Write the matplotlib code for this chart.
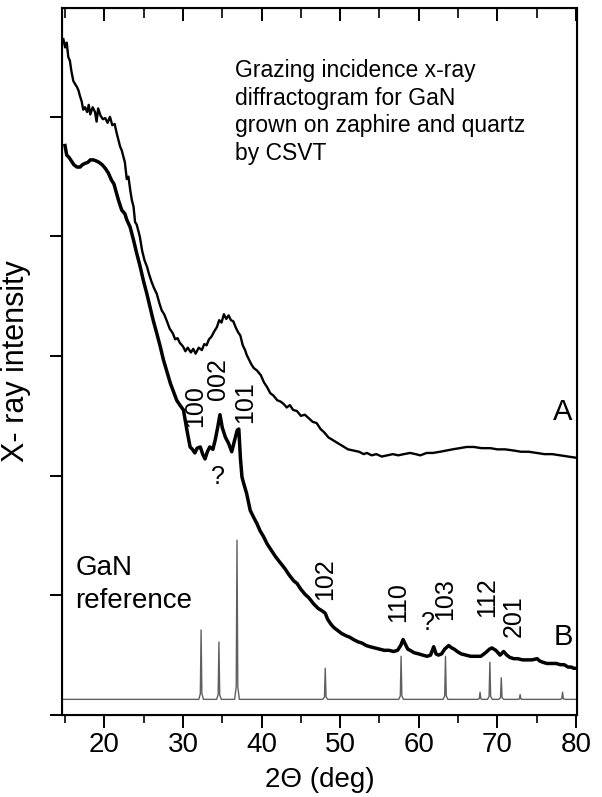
import numpy as np
import matplotlib
matplotlib.use("Agg")
import matplotlib.pyplot as plt
from matplotlib.ticker import MultipleLocator, NullFormatter

plt.rcParams['font.family'] = ['Liberation Sans', 'DejaVu Sans']

# curve A (upper)
a_x = [14.77, 15.0, 15.2, 15.4, 15.6, 15.8, 16.04, 16.3, 16.5, 16.7, 16.9, 17.1, 17.3, 17.53,
       17.8, 18.0, 18.2, 18.5, 18.8, 19.0, 19.2, 19.5, 19.8, 20.1, 20.4, 20.7, 21.0, 21.3,
       21.57, 21.8, 22.0, 22.2, 22.4, 22.6, 22.84, 23.05, 23.3, 23.5, 23.7, 23.9, 24.1, 24.3,
       24.5, 24.8, 25.1, 25.4, 25.7, 26.0, 26.3, 26.66, 27.0, 27.3, 27.6, 27.9, 28.3, 28.7,
       29.0, 29.3, 29.6, 30.0, 30.3, 30.6, 31.0, 31.3, 31.6, 32.0, 32.4, 32.7, 33.0, 33.3,
       33.6, 34.0, 34.3, 34.6, 34.9, 35.2, 35.5, 35.8, 36.1, 36.4, 36.7, 37.0, 37.3, 37.6,
       37.9, 38.1, 38.4, 38.7, 39.0, 39.4, 39.9, 40.3, 40.7, 41.1, 41.5, 42.0, 42.4, 42.8,
       43.2, 43.6, 44.0, 44.5, 45.0, 45.5, 46.0, 46.5, 47.0, 47.5, 48.0, 48.5, 49.0, 49.5,
       50.0, 50.5, 51.0, 51.7, 52.4, 53.0, 53.4, 54.0, 54.6, 55.3, 56.0, 56.7, 57.4, 58.1,
       58.9, 59.6, 60.2, 61.0, 61.8, 62.7, 63.5, 64.3, 65.2, 66.1, 67.0, 68.0, 69.1, 70.0,
       71.0, 72.1, 73.0, 74.0, 75.0, 76.0, 77.0, 78.0, 79.0, 80.0]
a_y = [5.65, 5.58, 5.62, 5.50, 5.47, 5.38, 5.30, 5.27, 5.25, 5.22, 5.17, 5.13, 5.06, 5.08,
       5.04, 5.10, 5.02, 5.08, 5.04, 4.96, 5.07, 5.01, 4.98, 4.99, 4.95, 5.00, 4.93, 4.94,
       4.86, 4.80, 4.75, 4.72, 4.67, 4.62, 4.48, 4.50, 4.38, 4.30, 4.25, 4.12, 4.10, 4.05,
       4.00, 3.88, 3.80, 3.75, 3.68, 3.62, 3.57, 3.52, 3.44, 3.38, 3.35, 3.30, 3.23, 3.19,
       3.14, 3.15, 3.11, 3.08, 3.04, 3.07, 3.03, 3.06, 3.02, 3.07, 3.05, 3.10, 3.09, 3.14,
       3.16, 3.21, 3.24, 3.30, 3.28, 3.35, 3.31, 3.34, 3.30, 3.29, 3.24, 3.20, 3.17, 3.09,
       3.05, 3.01, 2.97, 2.93, 2.90, 2.88, 2.84, 2.78, 2.74, 2.69, 2.67, 2.63, 2.62, 2.60,
       2.57, 2.59, 2.55, 2.54, 2.50, 2.51, 2.48, 2.45, 2.44, 2.39, 2.36, 2.32, 2.30, 2.28,
       2.26, 2.24, 2.22, 2.21, 2.20, 2.18, 2.19, 2.17, 2.18, 2.16, 2.17, 2.18, 2.17, 2.18,
       2.19, 2.18, 2.17, 2.19, 2.19, 2.20, 2.21, 2.22, 2.23, 2.24, 2.24, 2.23, 2.23, 2.22,
       2.22, 2.21, 2.20, 2.20, 2.19, 2.18, 2.18, 2.17, 2.16, 2.15]

# curve B (lower)
b_x = [14.98, 15.2, 15.5, 15.8, 16.1, 16.5, 16.9, 17.2, 17.5, 17.9, 18.2, 18.6, 19.0, 19.3,
       19.7, 20.1, 20.5, 20.9, 21.2, 21.5, 21.8, 22.2, 22.6, 22.84, 23.26, 23.7, 24.1, 24.5,
       24.96, 25.4, 25.8, 26.2, 26.66, 27.1, 27.5, 28.0, 28.4, 28.8, 29.2, 29.6, 30.05, 30.5,
       30.9, 31.2, 31.5, 31.8, 32.2, 32.5, 32.8, 33.1, 33.4, 33.8, 34.1, 34.4, 34.7, 35.0,
       35.4, 35.8, 36.2, 36.5, 36.9, 37.1, 37.3, 37.5, 37.7, 38.1, 38.55, 39.0, 39.4, 39.8,
       40.25, 40.7, 41.2, 41.8, 42.4, 43.0, 43.5, 44.1, 44.5, 45.0, 45.5, 46.0, 46.6, 47.2,
       47.7, 48.1, 48.4, 48.8, 49.2, 49.6, 50.2, 50.8, 51.2, 51.7, 52.3, 52.8, 53.3, 53.8,
       54.4, 55.0, 55.6, 56.2, 56.8, 57.3, 57.7, 58.0, 58.3, 58.6, 58.9, 59.4, 60.0, 60.5,
       61.06, 61.5, 61.9, 62.2, 62.5, 62.9, 63.3, 63.8, 64.2, 64.5, 64.9, 65.4, 66.0, 66.6,
       67.2, 67.9, 68.5, 69.0, 69.3, 69.8, 70.35, 70.8, 71.2, 71.6, 72.1, 72.6, 73.2, 73.8,
       74.4, 75.07, 75.4, 75.8, 76.3, 76.9, 77.5, 78.0, 78.5, 79.0, 79.4, 79.7, 80.0]
b_y = [4.76, 4.68, 4.66, 4.63, 4.60, 4.58, 4.58, 4.60, 4.61, 4.62, 4.64, 4.64, 4.63, 4.62,
       4.60, 4.57, 4.53, 4.47, 4.44, 4.37, 4.30, 4.22, 4.19, 4.14, 4.08, 3.97, 3.86, 3.76,
       3.63, 3.52, 3.41, 3.30, 3.19, 3.08, 2.97, 2.86, 2.77, 2.70, 2.63, 2.59, 2.55, 2.38,
       2.24, 2.22, 2.19, 2.23, 2.24, 2.18, 2.14, 2.20, 2.24, 2.22, 2.30, 2.40, 2.51, 2.40,
       2.32, 2.27, 2.20, 2.28, 2.38, 2.39, 2.15, 1.99, 1.94, 1.85, 1.71, 1.65, 1.60, 1.54,
       1.49, 1.43, 1.38, 1.32, 1.27, 1.22, 1.17, 1.12, 1.10, 1.05, 1.01, 0.98, 0.93, 0.89,
       0.87, 0.85, 0.80, 0.76, 0.73, 0.71, 0.68, 0.66, 0.65, 0.63, 0.61, 0.60, 0.58, 0.57,
       0.56, 0.55, 0.54, 0.54, 0.53, 0.54, 0.58, 0.63, 0.59, 0.55, 0.54, 0.52, 0.51, 0.50,
       0.49, 0.50, 0.57, 0.51, 0.50, 0.51, 0.55, 0.58, 0.56, 0.55, 0.53, 0.51, 0.50, 0.49,
       0.49, 0.49, 0.52, 0.55, 0.56, 0.54, 0.50, 0.53, 0.50, 0.48, 0.47, 0.47, 0.46, 0.46,
       0.46, 0.47, 0.45, 0.44, 0.43, 0.43, 0.43, 0.42, 0.42, 0.40, 0.40, 0.39, 0.39]

# GaN reference pattern: peak positions and peak tops
ref_pos = [32.3, 34.57, 36.87, 48.1, 57.75, 63.4, 67.8, 69.05, 70.5, 72.9, 78.3]
ref_top = [0.71, 0.61, 1.46, 0.39, 0.49, 0.49, 0.19, 0.44, 0.31, 0.17, 0.19]
ref_base = 0.13

# hkl labels (vertical) and '?' marks
hkl_labels = ['100', '002', '101', '102', '110', '103', '112', '201']
hkl_x = [31.55, 34.5, 37.9, 48.1, 57.4, 63.4, 68.7, 72.1]
hkl_y = [2.41, 2.63, 2.44, 0.96, 0.78, 0.79, 0.82, 0.65]
q_x = [34.4, 61.2]
q_y = [1.99, 0.77]

# build reference line from the peak list
rx = [14.6]
ry = [ref_base]
for p, h in zip(ref_pos, ref_top):
    rx += [p - 0.3, p - 0.1, p, p + 0.1, p + 0.3]
    ry += [ref_base, ref_base + 0.08 * (h - ref_base), h,
           ref_base + 0.08 * (h - ref_base), ref_base]
rx.append(80.1)
ry.append(ref_base)

fig = plt.figure(figsize=(6.02, 7.97), dpi=100)
ax = fig.add_axes([0.103, 0.103, 0.855, 0.887])

ax.plot(a_x, a_y, color='black', lw=1.7)
ax.plot(b_x, b_y, color='black', lw=2.5)
ax.plot(rx, ry, color='#606060', lw=1.0)

for lab, x, y in zip(hkl_labels, hkl_x, hkl_y):
    ax.text(x, y, lab, rotation=90, ha='center', va='bottom', fontsize=18)
for x, y in zip(q_x, q_y):
    ax.text(x, y, '?', ha='center', va='center', fontsize=18)

ax.text(78.3, 2.53, 'A', ha='center', va='center', fontsize=21)
ax.text(78.4, 0.65, 'B', ha='center', va='center', fontsize=21)
ax.text(16.3, 1.09, 'GaN\nreference', ha='left', va='center', fontsize=20,
        linespacing=1.35)
ax.text(36.6, 5.04, 'Grazing incidence x-ray\ndiffractogram for GaN\n'
        'grown on zaphire and quartz\nby CSVT', ha='left', va='center',
        fontsize=16.5, linespacing=1.25)

ax.set_xlim(14.6, 80.1)
ax.set_ylim(0, 5.91)
ax.xaxis.set_major_locator(MultipleLocator(10))
ax.xaxis.set_minor_locator(MultipleLocator(5))
ax.yaxis.set_major_locator(MultipleLocator(1))
ax.yaxis.set_major_formatter(NullFormatter())
ax.tick_params(axis='x', which='major', direction='out', length=9, width=1.4,
               labelsize=20)
ax.tick_params(axis='x', which='minor', direction='out', length=6, width=1.2)
ax.tick_params(axis='y', which='major', direction='out', length=9, width=1.4)
for s in ax.spines.values():
    s.set_linewidth(1.5)

ax.set_xlabel('2Θ (deg)', fontsize=20, labelpad=6)
ax.set_ylabel('X- ray intensity', fontsize=22, labelpad=10)

# inward ticks along the top edge
top = ax.twiny()
top.set_xlim(ax.get_xlim())
top.xaxis.set_major_locator(MultipleLocator(10))
top.xaxis.set_minor_locator(MultipleLocator(5))
top.xaxis.set_major_formatter(NullFormatter())
top.tick_params(axis='x', direction='in', length=9, width=1.4, color='black')
top.tick_params(axis='x', which='minor', direction='in', length=7, width=1.2)

fig.savefig('out.png', dpi=100)
